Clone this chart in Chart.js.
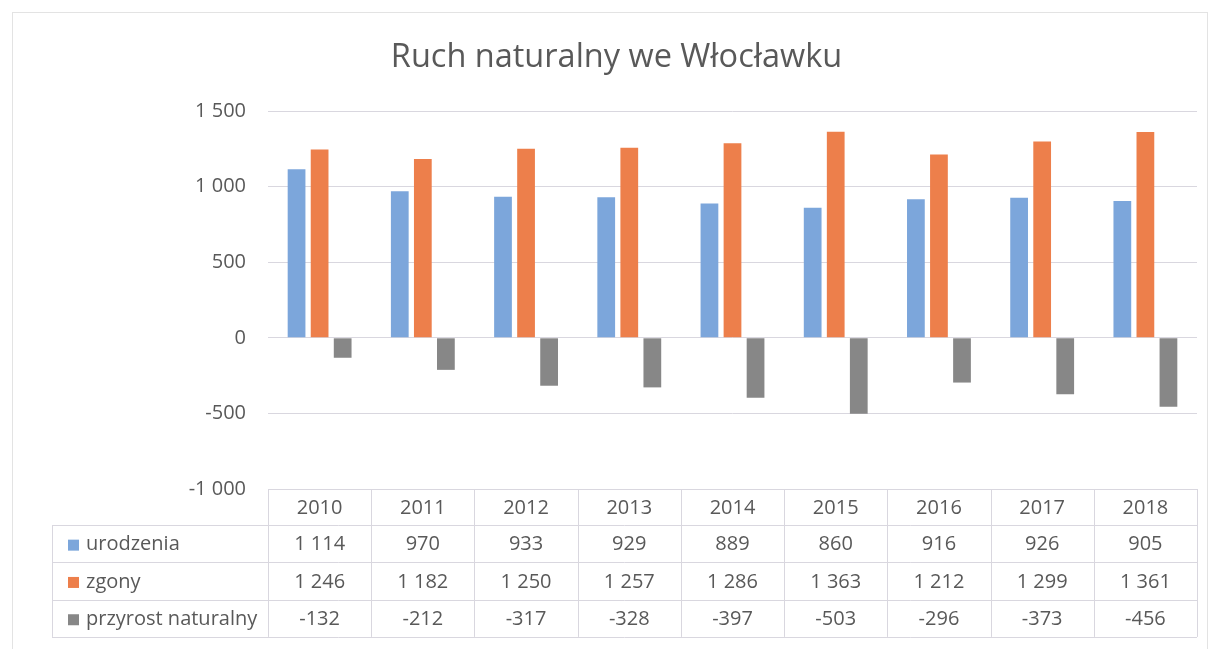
<!DOCTYPE html>
<html>
<head>
<meta charset="utf-8">
<script src="https://cdn.jsdelivr.net/npm/chart.js@4.4.0/dist/chart.umd.min.js"></script>
<style>
    html, body { margin: 0; padding: 0; background: #ffffff; }
    canvas { display: block; }
</style>
</head>
<body>
<canvas id="chart" width="1215" height="649"></canvas>
<script>
// Data
const years = ['2010', '2011', '2012', '2013', '2014', '2015', '2016', '2017', '2018'];
const urodzenia = [1114, 970, 933, 929, 889, 860, 916, 926, 905];
const zgony = [1246, 1182, 1250, 1257, 1286, 1363, 1212, 1299, 1361];
const przyrost = [-132, -212, -317, -328, -397, -503, -296, -373, -456];
const yMin = -1000;
const yMax = 1500;
const yStep = 500;

const textColor = '#595959';
const lineColor = '#d9d7df';
const fontFamily = '"Open Sans", Lato, sans-serif';

// "1 246" style numbers with a space as thousands separator
function fmt(v) {
    const s = Math.abs(v).toString().replace(/\B(?=(\d{3})+(?!\d))/g, ' ');
    return (v < 0 ? '-' : '') + s;
}

// Faint frame round the whole chart
const frame = {
    id: 'frame',
    beforeDraw: (chart) => {
        const { ctx } = chart;
        ctx.save();
        ctx.fillStyle = '#ffffff';
        ctx.fillRect(0, 0, chart.width, chart.height);
        ctx.strokeStyle = '#e3e3e3';
        ctx.lineWidth = 1;
        ctx.strokeRect(12.5, 12.5, chart.width - 20, chart.height - 8);
        ctx.restore();
    }
};

// Data table under the plot, in the columns of the x scale
const dataTable = {
    id: 'dataTable',
    afterDraw: (chart) => {
        const { ctx, chartArea, scales: { x } } = chart;
        const colW = (chartArea.right - chartArea.left) / years.length;
        const top = chartArea.bottom;
        const headH = 36;
        const rowH = 37.3;
        const legendLeft = 52;
        const rows = chart.data.datasets;
        const bottom = top + headH + rowH * rows.length;

        ctx.save();
        ctx.strokeStyle = lineColor;
        ctx.lineWidth = 1;
        ctx.beginPath();
        // horizontal lines
        ctx.moveTo(chartArea.left, Math.round(top) + 0.5);
        ctx.lineTo(chartArea.right, Math.round(top) + 0.5);
        for (let r = 0; r <= rows.length; r++) {
            const y = Math.round(top + headH + rowH * r) + 0.5;
            ctx.moveTo(legendLeft, y);
            ctx.lineTo(chartArea.right, y);
        }
        // vertical lines
        ctx.moveTo(legendLeft + 0.5, top + headH);
        ctx.lineTo(legendLeft + 0.5, bottom);
        for (let i = 0; i <= years.length; i++) {
            const xx = Math.round(chartArea.left + colW * i) + 0.5;
            ctx.moveTo(xx, top);
            ctx.lineTo(xx, bottom);
        }
        ctx.stroke();

        ctx.font = '20px ' + fontFamily;
        ctx.fillStyle = textColor;
        ctx.textBaseline = 'middle';
        ctx.textAlign = 'center';
        years.forEach((yr, i) => {
            ctx.fillText(yr, x.getPixelForValue(i), top + headH / 2 + 1);
        });
        rows.forEach((ds, r) => {
            const cy = top + headH + rowH * r + rowH / 2 + 1;
            ctx.fillStyle = ds.backgroundColor;
            ctx.fillRect(legendLeft + 16, cy - 5, 11, 11);
            ctx.fillStyle = textColor;
            ctx.textAlign = 'left';
            ctx.fillText(ds.label, legendLeft + 34, cy);
            ctx.textAlign = 'center';
            ds.data.forEach((v, i) => {
                ctx.fillText(fmt(v), x.getPixelForValue(i), cy);
            });
        });
        ctx.restore();
    }
};

new Chart(document.getElementById('chart'), {
    type: 'bar',
    data: {
        labels: years,
        datasets: [
            { label: 'urodzenia', data: urodzenia, backgroundColor: '#7ca6db' },
            { label: 'zgony', data: zgony, backgroundColor: '#ed7f4b' },
            { label: 'przyrost naturalny', data: przyrost, backgroundColor: '#878787' }
        ]
    },
    options: {
        responsive: false,
        animation: false,
        datasets: {
            bar: {
                categoryPercentage: 0.67,
                barPercentage: 0.77
            }
        },
        layout: {
            padding: { left: 36, right: 18, top: 0, bottom: 160 }
        },
        plugins: {
            legend: { display: false },
            tooltip: { enabled: false },
            title: {
                display: true,
                text: 'Ruch naturalny we Włocławku',
                color: textColor,
                font: { family: fontFamily, size: 32.5, weight: 'normal' },
                padding: { top: 38, bottom: 34 }
            }
        },
        scales: {
            x: {
                display: false,
                offset: true
            },
            y: {
                min: yMin,
                max: yMax,
                afterFit: (scale) => { scale.width = 232; },
                ticks: {
                    stepSize: yStep,
                    color: textColor,
                    padding: 22,
                    font: { family: fontFamily, size: 20 },
                    callback: (v) => fmt(v)
                },
                grid: {
                    color: lineColor,
                    drawTicks: false
                },
                border: { display: false }
            }
        }
    },
    plugins: [frame, dataTable]
});
</script>
</body>
</html>
